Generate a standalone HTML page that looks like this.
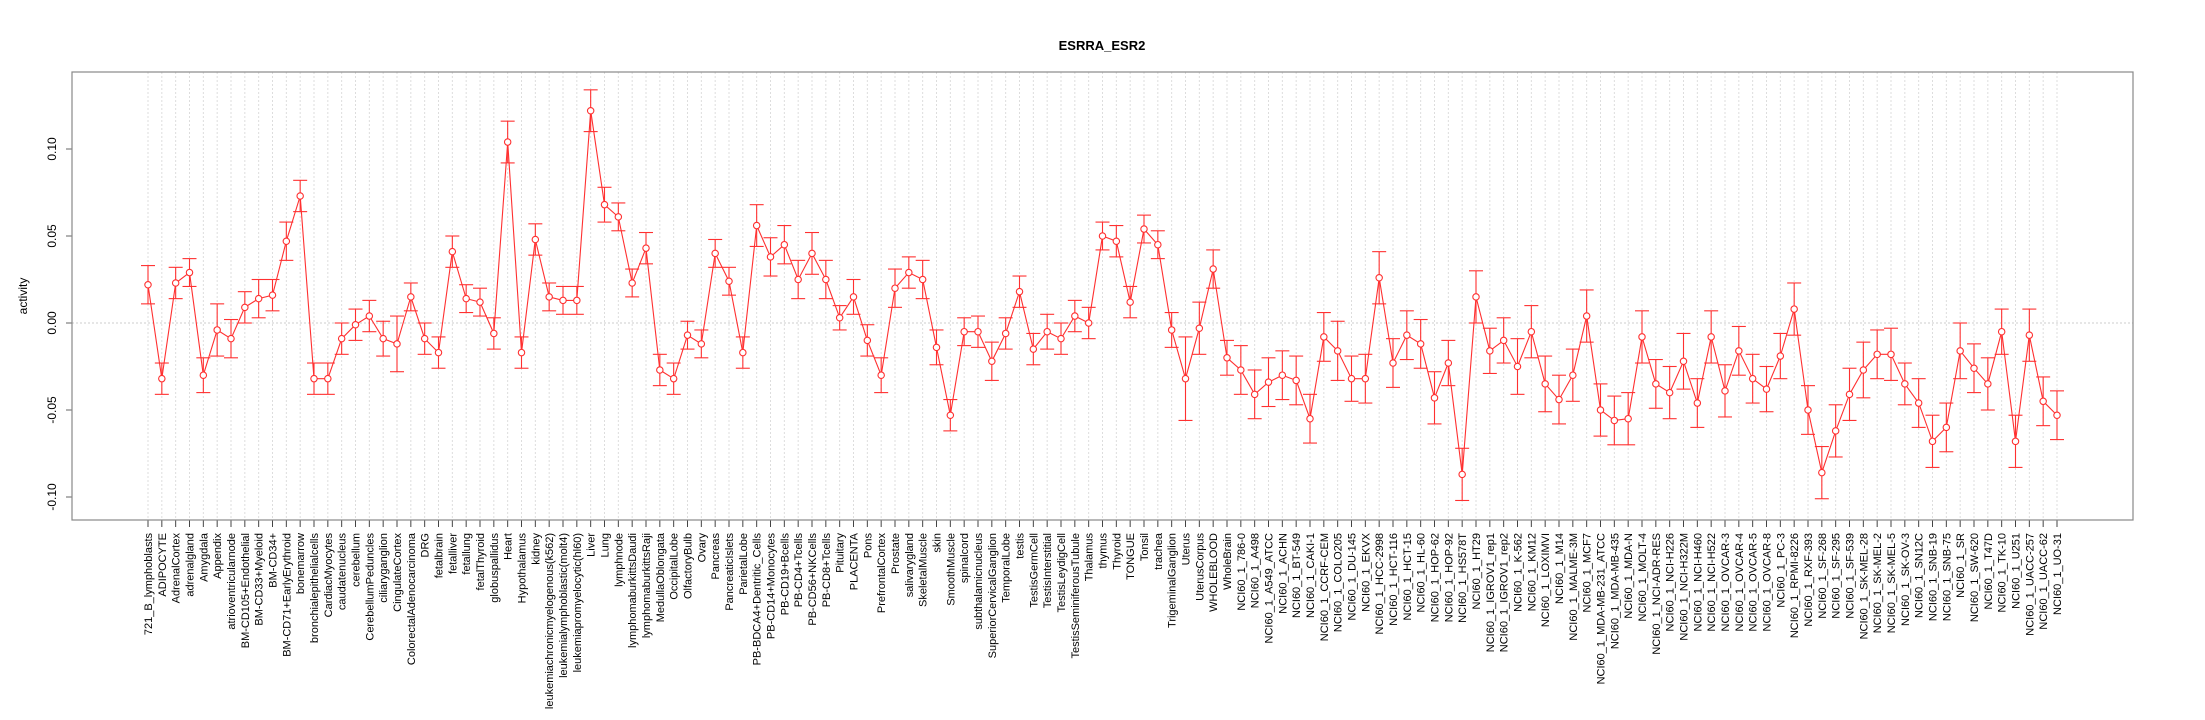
<!DOCTYPE html>
<html><head><meta charset="utf-8"><style>
html,body{margin:0;padding:0;background:#fff;}
svg{display:block;font-family:"Liberation Sans",Arial,sans-serif;}
</style></head><body>
<svg id="chart" width="2205" height="720" viewBox="0 0 2205 720" xmlns="http://www.w3.org/2000/svg">
<text x="1102" y="50" text-anchor="middle" font-weight="bold" font-size="13">ESRRA_ESR2</text>
<text transform="translate(27,296) rotate(-90)" text-anchor="middle" font-size="12">activity</text>
<g id="grid"></g>
<g id="yaxis"></g>
<g id="xaxis"></g>
<g id="series"></g>
<rect x="72" y="72" width="2061" height="448" fill="none" stroke="#888" stroke-width="1.2"/>
</svg>
<script>
const categories = ["721_B_lymphoblasts","ADIPOCYTE","AdrenalCortex","adrenalgland","Amygdala","Appendix","atrioventricularnode","BM-CD105+Endothelial","BM-CD33+Myeloid","BM-CD34+","BM-CD71+EarlyErythroid","bonemarrow","bronchialepithelialcells","CardiacMyocytes","caudatenucleus","cerebellum","CerebellumPeduncles","ciliaryganglion","CingulateCortex","ColorectalAdenocarcinoma","DRG","fetalbrain","fetalliver","fetallung","fetalThyroid","globuspallidus","Heart","Hypothalamus","kidney",
"leukemiachronicmyelogenous(k562)","leukemialymphoblastic(molt4)","leukemiapromyelocytic(hl60)","Liver","Lung","lymphnode","lymphomaburkittsDaudi","lymphomaburkittsRaji","MedullaOblongata","OccipitalLobe","OlfactoryBulb","Ovary","Pancreas","PancreaticIslets","ParietalLobe","PB-BDCA4+Dentritic_Cells","PB-CD14+Monocytes","PB-CD19+Bcells","PB-CD4+Tcells","PB-CD56+NKCells","PB-CD8+Tcells","Pituitary","PLACENTA","Pons","PrefrontalCortex","Prostate","salivarygland","SkeletalMuscle","skin",
"SmoothMuscle","spinalcord","subthalamicnucleus","SuperiorCervicalGanglion","TemporalLobe","testis","TestisGermCell","TestisInterstitial","TestisLeydigCell","TestisSeminiferousTubule","Thalamus","thymus","Thyroid","TONGUE","Tonsil","trachea","TrigeminalGanglion","Uterus","UterusCorpus","WHOLEBLOOD","WholeBrain","NCI60_1_786-0","NCI60_1_A498","NCI60_1_A549_ATCC","NCI60_1_ACHN","NCI60_1_BT-549","NCI60_1_CAKI-1","NCI60_1_CCRF-CEM","NCI60_1_COLO205",
"NCI60_1_DU-145","NCI60_1_EKVX","NCI60_1_HCC-2998","NCI60_1_HCT-116","NCI60_1_HCT-15","NCI60_1_HL-60","NCI60_1_HOP-62","NCI60_1_HOP-92","NCI60_1_HS578T","NCI60_1_HT29","NCI60_1_IGROV1_rep1","NCI60_1_IGROV1_rep2","NCI60_1_K-562","NCI60_1_KM12","NCI60_1_LOXIMVI","NCI60_1_M14","NCI60_1_MALME-3M","NCI60_1_MCF7","NCI60_1_MDA-MB-231_ATCC","NCI60_1_MDA-MB-435","NCI60_1_MDA-N","NCI60_1_MOLT-4","NCI60_1_NCI-ADR-RES","NCI60_1_NCI-H226","NCI60_1_NCI-H322M","NCI60_1_NCI-H460","NCI60_1_NCI-H522","NCI60_1_OVCAR-3",
"NCI60_1_OVCAR-4","NCI60_1_OVCAR-5","NCI60_1_OVCAR-8","NCI60_1_PC-3","NCI60_1_RPMI-8226","NCI60_1_RXF-393","NCI60_1_SF-268","NCI60_1_SF-295","NCI60_1_SF-539","NCI60_1_SK-MEL-28","NCI60_1_SK-MEL-2","NCI60_1_SK-MEL-5","NCI60_1_SK-OV-3","NCI60_1_SN12C","NCI60_1_SNB-19","NCI60_1_SNB-75","NCI60_1_SR","NCI60_1_SW-620","NCI60_1_T47D","NCI60_1_TK-10","NCI60_1_U251","NCI60_1_UACC-257","NCI60_1_UACC-62","NCI60_1_UO-31"];
const activity = [0.022,-0.032,0.023,0.029,-0.030,-0.004,-0.009,0.009,0.014,0.016,0.047,0.073,-0.032,-0.032,-0.009,-0.001,0.004,-0.009,-0.012,0.015,-0.009,-0.017,0.041,0.014,0.012,-0.006,0.104,-0.017,0.048,
0.015,0.013,0.013,0.122,0.068,0.061,0.023,0.043,-0.027,-0.032,-0.007,-0.012,0.040,0.024,-0.017,0.056,0.038,0.045,0.025,0.040,0.025,0.003,0.015,-0.010,-0.030,0.020,0.029,0.025,-0.014,
-0.053,-0.005,-0.005,-0.022,-0.006,0.018,-0.015,-0.005,-0.009,0.004,0.000,0.050,0.047,0.012,0.054,0.045,-0.004,-0.032,-0.003,0.031,-0.020,-0.027,-0.041,-0.034,-0.030,-0.033,-0.055,-0.008,-0.016,
-0.032,-0.032,0.026,-0.023,-0.007,-0.012,-0.043,-0.023,-0.087,0.015,-0.016,-0.010,-0.025,-0.005,-0.035,-0.044,-0.030,0.004,-0.050,-0.056,-0.055,-0.008,-0.035,-0.040,-0.022,-0.046,-0.008,-0.039,
-0.016,-0.032,-0.038,-0.019,0.008,-0.050,-0.086,-0.062,-0.041,-0.027,-0.018,-0.018,-0.035,-0.046,-0.068,-0.060,-0.016,-0.026,-0.035,-0.005,-0.068,-0.007,-0.045,-0.053];
const errors = [0.011,0.009,0.009,0.008,0.010,0.015,0.011,0.009,0.011,0.009,0.011,0.009,0.009,0.009,0.009,0.009,0.009,0.010,0.016,0.008,0.009,0.009,0.009,0.008,0.008,0.009,0.012,0.009,0.009,
0.008,0.008,0.008,0.012,0.010,0.008,0.008,0.009,0.009,0.009,0.008,0.008,0.008,0.008,0.009,0.012,0.011,0.011,0.011,0.012,0.011,0.007,0.010,0.009,0.010,0.011,0.009,0.011,0.010,
0.009,0.008,0.009,0.011,0.009,0.009,0.009,0.010,0.009,0.009,0.009,0.008,0.009,0.009,0.008,0.008,0.010,0.024,0.015,0.011,0.010,0.014,0.014,0.014,0.014,0.014,0.014,0.014,0.017,
0.013,0.014,0.015,0.014,0.014,0.014,0.015,0.013,0.015,0.015,0.013,0.013,0.016,0.015,0.016,0.014,0.015,0.015,0.015,0.014,0.015,0.015,0.014,0.015,0.016,0.014,0.015,0.015,
0.014,0.014,0.013,0.013,0.015,0.014,0.015,0.015,0.015,0.016,0.014,0.015,0.012,0.014,0.015,0.014,0.016,0.014,0.015,0.013,0.015,0.015,0.014,0.014];
const yTicks = [-0.10,-0.05,0.00,0.05,0.10];
const yTickLabels = ["-0.10","-0.05","0.00","0.05","0.10"];

const NS = "http://www.w3.org/2000/svg";
const L = 72, R = 2133, T = 72, B = 520;
function xs(i){ return 148 + i * (2057 - 148) / (categories.length - 1); }
function ys(v){ return 323 - v * 1740; }
function mk(tag, attrs, parent){ const e = document.createElementNS(NS, tag); for (const k in attrs) e.setAttribute(k, attrs[k]); parent.appendChild(e); return e; }

const grid = document.getElementById('grid');
const yaxis = document.getElementById('yaxis');
const xaxis = document.getElementById('xaxis');
const series = document.getElementById('series');

const zl = mk('line', {x1:L, x2:R, y1:ys(0), y2:ys(0), stroke:'#ccc', 'stroke-dasharray':'2,2'}, grid);



mk('line', {x1:L, x2:L, y1:ys(yTicks[0]), y2:ys(yTicks[yTicks.length-1]), stroke:'#666'}, yaxis);
yTicks.forEach((t, k) => {
  const y = ys(t);
  mk('line', {x1:L-6, x2:L, y1:y, y2:y, stroke:'#666'}, yaxis);
  const tx = mk('text', {transform:`translate(${L-16},${y}) rotate(-90)`, 'text-anchor':'middle', 'font-size':12}, yaxis);
  tx.textContent = yTickLabels[k];
  
  
});

categories.forEach((c, i) => {
  const x = xs(i);
  mk('line', {x1:x, x2:x, y1:T, y2:B, stroke:'#ddd', 'stroke-dasharray':'2,2'}, grid);
  mk('line', {x1:x, x2:x, y1:B, y2:B+7, stroke:'#444'}, xaxis);
  const tx = mk('text', {transform:`translate(${x+4},${B+13}) rotate(-90)`, 'text-anchor':'end', 'font-size':11}, xaxis);
  tx.textContent = c;
  
  
});

let d = '';
activity.forEach((v, i) => { d += (i ? 'L' : 'M') + xs(i).toFixed(1) + ',' + ys(v).toFixed(1); });
const line = mk('path', {d:d, fill:'none', stroke:'#ff3030', 'stroke-width':1.1}, series);



activity.forEach((v, i) => {
  const x = xs(i), e = errors[i];
  const g = mk('g', {stroke:'#ff3030', 'stroke-width':1.1, fill:'none'}, series);
  
  
  mk('line', {x1:x, x2:x, y1:ys(v+e), y2:ys(v-e)}, g);
  mk('line', {x1:x-7, x2:x+7, y1:ys(v+e), y2:ys(v+e)}, g);
  mk('line', {x1:x-7, x2:x+7, y1:ys(v-e), y2:ys(v-e)}, g);
  const p = mk('circle', {cx:x, cy:ys(v), r:3.2, fill:'#fff'}, g);
  
  
});
</script>
</body></html>
